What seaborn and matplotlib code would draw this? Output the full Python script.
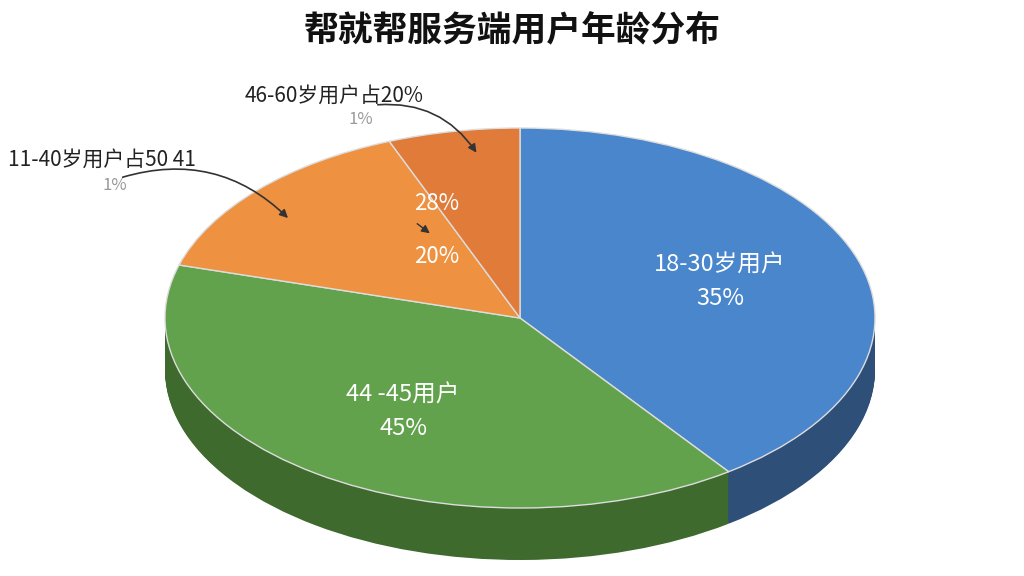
import matplotlib
matplotlib.use('Agg')
import matplotlib.pyplot as plt
import seaborn as sns
from matplotlib.transforms import Affine2D

# slice values (clockwise from top)
categories = ['18-30岁用户', '44-45用户', '11-40岁用户', '46-60岁用户']
values = [40, 39.5, 14.5, 6]
top_colors = ['#4a86cc', '#62a24c', '#ee9140', '#e07b3a']
side_colors = ['#2e4f78', '#3f6a2e', '#a8602a', '#9c5427']

sns.set_theme(style='white')
plt.rcParams['font.family'] = ['Noto Sans CJK SC', 'DejaVu Sans']

fig = plt.figure(figsize=(10.24, 5.76), dpi=100)
ax = fig.add_axes([0, 0, 1, 1])

cx, cy, rx, ry, depth = 520, 318, 355, 190, 52

# pie drawn in unit coordinates, then mapped onto an ellipse via a transform
for k in range(depth, 0, -1):
    t = Affine2D().scale(rx, -ry).translate(cx, cy + k) + ax.transData
    wedges, _ = ax.pie(values, colors=side_colors, startangle=90, counterclock=False,
                       radius=1, frame=False, wedgeprops=dict(linewidth=0))
    for w in wedges:
        w.set_transform(t)
tr = Affine2D().scale(rx, -ry).translate(cx, cy) + ax.transData
wedges, _ = ax.pie(values, colors=top_colors, startangle=90, counterclock=False,
                   radius=1, frame=False, wedgeprops=dict(linewidth=1, edgecolor='#dddddd'))
for w in wedges:
    w.set_transform(tr)
ax.set_xlim(0, 1024)
ax.set_ylim(576, 0)
ax.set_aspect('auto')
ax.axis('off')

ax.text(512, 30, '帮就帮服务端用户年龄分布', ha='center', va='center', fontsize=25, fontweight='bold', color='#111111')

ax.text(720, 282, '18-30岁用户\n35%', ha='center', va='center', fontsize=17, color='white', linespacing=1.6)
ax.text(403, 412, '44 -45用户\n45%', ha='center', va='center', fontsize=17, color='white', linespacing=1.6)
ax.text(437, 230, '28%\n\n20%', ha='center', va='center', fontsize=16, color='white', linespacing=1.2)

ax.text(245, 96, '46-60岁用户占20%', ha='left', va='center', fontsize=15, color='#222222')
ax.text(348, 120, '1%', ha='left', va='center', fontsize=12, color='#999999')
ax.text(8, 160, '11-40岁用户占50 41', ha='left', va='center', fontsize=15, color='#222222')
ax.text(102, 186, '1%', ha='left', va='center', fontsize=12, color='#999999')

arrow = dict(arrowstyle='-|>', color='#333333', lw=1.2, connectionstyle='arc3,rad=-0.3')
ax.annotate('', xy=(478, 155), xytext=(375, 105), arrowprops=arrow)
ax.annotate('', xy=(290, 220), xytext=(120, 178), arrowprops=arrow)
ax.annotate('', xy=(432, 235), xytext=(415, 222), arrowprops=dict(arrowstyle='-|>', color='#333333', lw=1))

fig.savefig('out.png', dpi=100)
